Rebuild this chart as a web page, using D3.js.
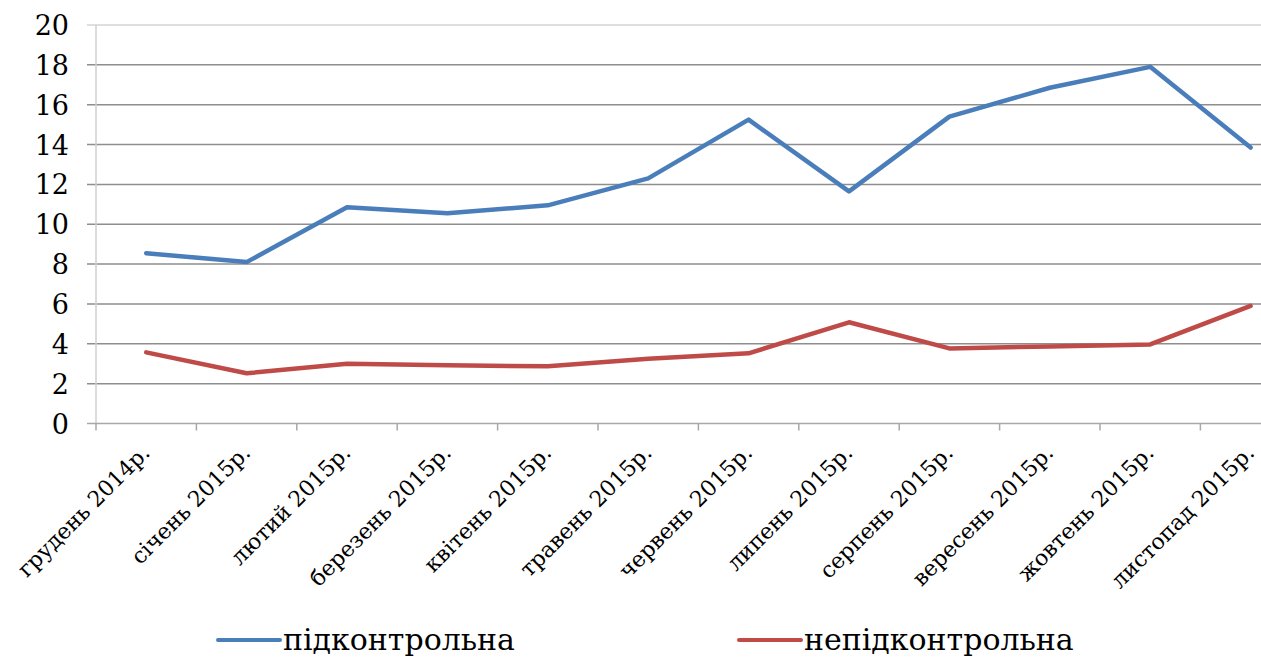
<!DOCTYPE html>
<html>
<head>
<meta charset="utf-8">
<script src="https://cdn.jsdelivr.net/npm/d3@7"></script>
<style>
  body { margin: 0; background: #fff; }
  svg { display: block; }
</style>
</head>
<body>
<svg id="chart" width="1261" height="658"></svg>
<script>
// data
var months = ["грудень 2014р.", "січень 2015р.", "лютий 2015р.", "березень 2015р.",
              "квітень 2015р.", "травень 2015р.", "червень 2015р.", "липень 2015р.",
              "серпень 2015р.", "вересень 2015р.", "жовтень 2015р.", "листопад 2015р."];
var controlled   = [8.55, 8.1, 10.85, 10.55, 10.95, 12.3, 15.25, 11.65, 15.4, 16.85, 17.9, 13.85];
var uncontrolled = [3.57, 2.52, 3.0, 2.92, 2.87, 3.25, 3.52, 5.08, 3.77, 3.87, 3.97, 5.9];
var yTicks = [0, 2, 4, 6, 8, 10, 12, 14, 16, 18, 20];
var seriesNames = ["підконтрольна", "непідконтрольна"];
var colors = ["#4a7ebb", "#be4b48"];

var serif = "'DejaVu Serif', 'Liberation Serif', serif";
var svg = d3.select("#chart");

var x = d3.scaleBand().domain(months).range([96, 96 + 12 * 100.4]);
var y = d3.scaleLinear().domain([0, 20]).range([423.5, 25]);

// horizontal gridlines
svg.selectAll("line.grid")
    .data(yTicks.filter(function(d){ return d > 0; }))
    .enter().append("line")
    .attr("class", "grid")
    .attr("x1", 87).attr("x2", 1261)
    .attr("y1", function(d){ return y(d); })
    .attr("y2", function(d){ return y(d); })
    .attr("stroke", function(d){ return d == 20 ? "#d4d4d4" : "#8e8e8e"; })
    .attr("stroke-width", 1.5);

// y axis line
svg.append("line")
    .attr("x1", 96).attr("x2", 96)
    .attr("y1", y(20)).attr("y2", y(0))
    .attr("stroke", "#cfcfcf").attr("stroke-width", 1.5);

// x axis line + ticks between categories
svg.append("line")
    .attr("x1", 87).attr("x2", 1261)
    .attr("y1", y(0)).attr("y2", y(0))
    .attr("stroke", "#a8a8a8").attr("stroke-width", 1.5);

svg.selectAll("line.xtick")
    .data(months)
    .enter().append("line")
    .attr("class", "xtick")
    .attr("x1", function(d){ return x(d); })
    .attr("x2", function(d){ return x(d); })
    .attr("y1", y(0)).attr("y2", y(0) + 7)
    .attr("stroke", "#a8a8a8").attr("stroke-width", 1.5);

// y tick labels
svg.selectAll("text.ylab")
    .data(yTicks)
    .enter().append("text")
    .attr("class", "ylab")
    .attr("x", 69)
    .attr("y", function(d){ return y(d) + 10; })
    .attr("text-anchor", "end")
    .attr("font-family", serif)
    .attr("font-size", 27)
    .text(function(d){ return d; });

// x labels, rotated
svg.selectAll("text.xlab")
    .data(months)
    .enter().append("text")
    .attr("class", "xlab")
    .attr("text-anchor", "end")
    .attr("font-family", serif)
    .attr("font-size", 22)
    .attr("transform", function(d){
        var cx = x(d) + x.bandwidth() / 2;
        return "translate(" + (cx + 5) + "," + 454 + ") rotate(-45)";
    })
    .text(function(d){ return d; });

// lines
var line = d3.line()
    .x(function(d, i){ return x(months[i]) + x.bandwidth() / 2; })
    .y(function(d){ return y(d); });

[controlled, uncontrolled].forEach(function(s, k){
    svg.append("path")
        .datum(s)
        .attr("d", line)
        .attr("fill", "none")
        .attr("stroke", colors[k])
        .attr("stroke-width", 4.5)
        .attr("stroke-linejoin", "round")
        .attr("stroke-linecap", "round");
});

// legend
var legX = [218, 739];
seriesNames.forEach(function(name, k){
    svg.append("line")
        .attr("x1", legX[k]).attr("x2", legX[k] + 62)
        .attr("y1", 640).attr("y2", 640)
        .attr("stroke", colors[k]).attr("stroke-width", 4)
        .attr("stroke-linecap", "round");
    svg.append("text")
        .attr("x", legX[k] + 65)
        .attr("y", 650)
        .attr("font-family", serif)
        .attr("font-size", 30)
        .text(name);
});
</script>
</body>
</html>
